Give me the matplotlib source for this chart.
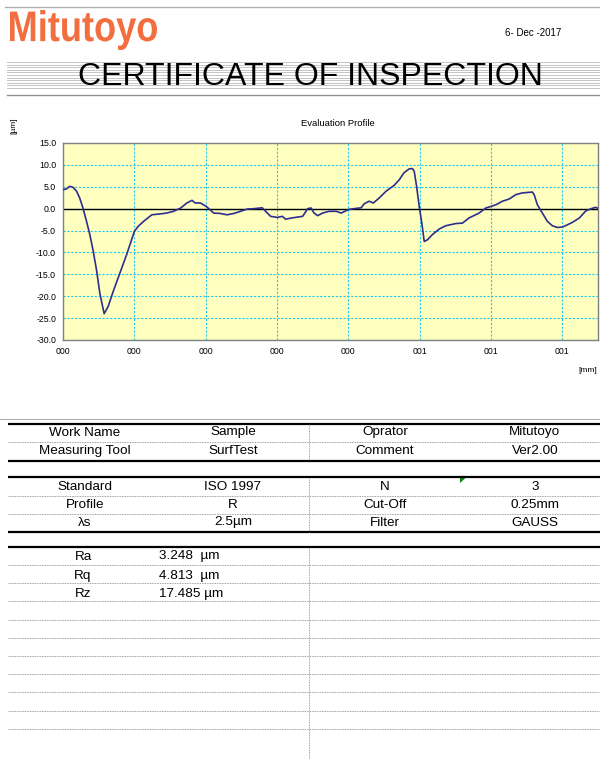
import numpy as np
import matplotlib
matplotlib.use("Agg")
import matplotlib.pyplot as plt
from matplotlib.patches import Polygon, PathPatch
from matplotlib.textpath import TextPath
from matplotlib.font_manager import FontProperties
from matplotlib.transforms import Affine2D

plt.rcParams['font.family'] = ['Liberation Sans', 'DejaVu Sans']

# Evaluation profile (x in mm, height in um)
profile_x = [0.0, 0.0047, 0.0094, 0.014, 0.019, 0.0235, 0.028, 0.033, 0.0376, 0.042,
             0.047, 0.0516, 0.0577, 0.0634, 0.0704, 0.0798, 0.0892, 0.1, 0.1056, 0.113,
             0.1245, 0.136, 0.1455, 0.155, 0.165, 0.1737, 0.1808, 0.1854, 0.1925, 0.201,
             0.2113, 0.2207, 0.23, 0.2394, 0.249, 0.258, 0.2676, 0.2793, 0.284, 0.291,
             0.3005, 0.3075, 0.312, 0.3216, 0.336, 0.343, 0.3477, 0.352, 0.357, 0.364,
             0.373, 0.383, 0.39, 0.4, 0.408, 0.418, 0.422, 0.429, 0.435, 0.443,
             0.453, 0.464, 0.4714, 0.478, 0.4854, 0.49, 0.4924, 0.4957, 0.4994, 0.503,
             0.5064, 0.511, 0.518, 0.5274, 0.5367, 0.5507, 0.56, 0.5694, 0.5834, 0.5927,
             0.5997, 0.607, 0.616, 0.6254, 0.6347, 0.644, 0.651, 0.658, 0.6605, 0.665,
             0.672, 0.679, 0.686, 0.693, 0.7, 0.707, 0.7145, 0.724, 0.733, 0.7405,
             0.7465, 0.75]
profile_y = [4.35, 4.5, 5.1, 4.9, 4.0, 2.4, 0.15, -2.9, -5.9, -9.4,
             -14.0, -19.3, -24.0, -22.3, -18.9, -14.7, -10.5, -5.2, -4.0, -2.9,
             -1.4, -1.2, -1.0, -0.6, 0.15, 1.3, 1.9, 1.3, 1.3, 0.5,
             -1.0, -1.1, -1.4, -1.1, -0.6, -0.1, 0.0, 0.2, -0.6, -1.75,
             -2.0, -1.75, -2.4, -2.1, -1.75, 0.0, 0.15, -1.0, -1.6, -1.0,
             -0.6, -0.6, -1.0, -0.2, 0.0, 0.2, 1.1, 1.7, 1.3, 2.4,
             4.0, 5.3, 6.6, 8.2, 9.1, 9.15, 8.5, 5.1, 0.5, -3.3,
             -7.5, -7.1, -5.9, -4.65, -3.9, -3.4, -3.3, -2.1, -1.0, 0.15,
             0.5, 0.9, 1.7, 2.2, 3.2, 3.6, 3.7, 3.8, 3.2, 0.9,
             -1.0, -2.9, -3.9, -4.3, -4.2, -3.7, -3.1, -2.1, -0.5, 0.0,
             0.3, 0.1]

x_ticks = [0.0, 0.1, 0.2, 0.3, 0.4, 0.5, 0.6, 0.7]
x_tick_labels = ["000", "000", "000", "000", "000", "001", "001", "001"]
y_ticks = [-30, -25, -20, -15, -10, -5, 0, 5, 10, 15]

info_rows = [["Work Name", "Sample", "Oprator", "Mitutoyo"],
             ["Measuring Tool", "SurfTest", "Comment", "Ver2.00"]]
cond_rows = [["Standard", "ISO 1997", "N", "3"],
             ["Profile", "R", "Cut-Off", "0.25mm"],
             ["\u03bbs", "2.5\u00b5m", "Filter", "GAUSS"]]
result_names = ["Ra", "Rq", "Rz"]
result_values = ["3.248  \u00b5m", "4.813  \u00b5m", "17.485 \u00b5m"]

W, H = 600, 759
fig = plt.figure(figsize=(W / 100, H / 100), dpi=100)

# page overlay in pixel coordinates
page = fig.add_axes([0, 0, 1, 1])
page.set_xlim(0, W)
page.set_ylim(H, 0)
page.axis('off')

# header
page.plot([5, W], [7, 7], color='#b0b0b0', lw=1)

# logo: bold text squeezed into the narrow logo box
logo = TextPath((0, 0), "Mitutoyo", size=10,
                prop=FontProperties(family='Liberation Sans', weight='bold'))
ext = logo.get_extents()
sx = (157 - 10) / ext.width
sy = (50 - 10) / ext.height
tr = Affine2D().translate(-ext.x0, -ext.y1).scale(sx, -sy).translate(10, 10)
page.add_patch(PathPatch(tr.transform_path(logo), color='#f26e3f', lw=0))

page.text(505, 33, "6- Dec -2017", fontsize=7, va='center', ha='left')
for yy in np.arange(62, 89, 2.6):
    page.plot([7, W], [yy, yy], color='#c4c4c4', lw=0.7)
page.plot([7, W], [95, 95], color='#909090', lw=1)
page.text(310, 77, "CERTIFICATE OF INSPECTION", fontsize=23, ha='center', va='center')

# chart labels
page.text(338, 123, "Evaluation Profile", fontsize=6.8, ha='center', va='center')
page.text(14, 126, "[\u00b5m]", fontsize=6, rotation=90, ha='center', va='center')
page.text(588, 370, "[mm]", fontsize=6, ha='center', va='center')

# table
col_x = [85, 233, 385, 535]
div_x = 309
fs = 9.7
thick = dict(color='black', lw=1.6, solid_capstyle='butt')
dotted = dict(color='#808080', lw=0.6, linestyle=(0, (1, 1)))
page.plot([0, W], [419, 419], color='#b0b0b0', lw=0.8)

page.plot([8, W], [423.5, 423.5], **thick)
page.plot([8, W], [441.5, 441.5], **dotted)
page.plot([8, W], [460.5, 460.5], **thick)
page.plot([div_x, div_x], [424, 460], **dotted)
for r, yy in zip(info_rows, [432.5, 451]):
    for cx, s in zip(col_x, r):
        page.text(cx, yy, s, fontsize=fs, ha='center', va='center')

page.plot([8, W], [477, 477], **thick)
page.plot([8, W], [495.5, 495.5], **dotted)
page.plot([8, W], [513.5, 513.5], **dotted)
page.plot([8, W], [532, 532], **thick)
page.plot([div_x, div_x], [477.5, 531.5], **dotted)
for r, yy in zip(cond_rows, [487, 505, 522.5]):
    for cx, s in zip(col_x, r):
        page.text(cx, yy, s, fontsize=fs, ha='center', va='center')
page.add_patch(Polygon([[460, 477.5], [466, 477.5], [460, 483]], closed=True,
                       color='#0a8a0a', lw=0))

page.plot([8, W], [547, 547], **thick)
page.plot([div_x, div_x], [547.5, 759], **dotted)
for yy in np.arange(565, 740, 18.2):
    page.plot([8, W], [yy, yy], **dotted)
for name, val, yy in zip(result_names, result_values, [556.5, 575.5, 594]):
    page.text(83, yy, name, fontsize=fs, ha='center', va='center')
    page.text(159, yy, val, fontsize=fs, ha='left', va='center')

# profile chart
ax = fig.add_axes([63 / W, 1 - 340 / H, (598 - 63) / W, (340 - 143) / H])
ax.set_facecolor('#ffffc0')
ax.plot(profile_x, profile_y, color='#2e2e8c', lw=1.2, zorder=3)
ax.axhline(0, color='black', lw=1, zorder=2)
ax.set_xlim(0, 0.75)
ax.set_ylim(-30, 15)
ax.set_xticks(x_ticks)
ax.set_xticklabels(x_tick_labels)
ax.set_yticks(y_ticks)
ax.set_yticklabels([f"{v:.1f}" for v in y_ticks])
ax.grid(True, color='#22c8f0', linestyle=(0, (2, 1.5)), lw=0.8)
ax.tick_params(length=0, labelsize=6.3, pad=5)
for s in ax.spines.values():
    s.set_color('#808080')
    s.set_linewidth(1)

fig.savefig("out.png", dpi=100)
